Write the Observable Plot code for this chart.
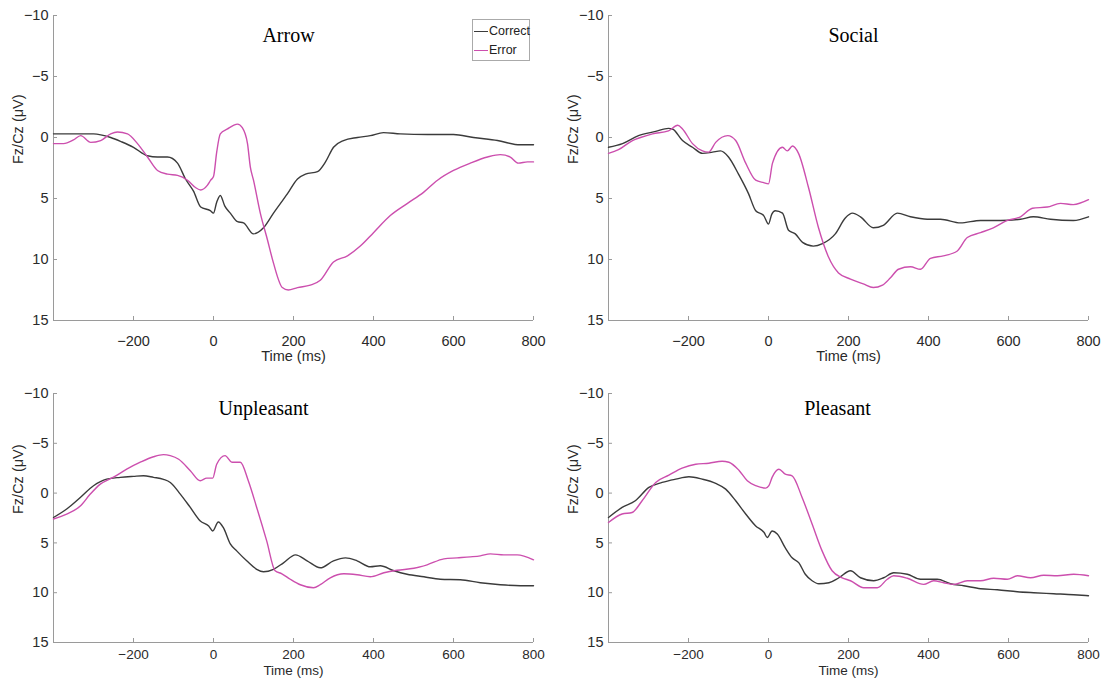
<!DOCTYPE html>
<html>
<head>
<meta charset="utf-8">
<script src="https://cdn.jsdelivr.net/npm/d3@7"></script>
<script src="https://cdn.jsdelivr.net/npm/@observablehq/plot@0.6"></script>
<style>
  body { margin: 0; background: #fff; }
  #wrap { position: relative; width: 1104px; height: 682px; overflow: hidden; }
  .panel { position: absolute; }
  .legend { position: absolute; left: 472px; top: 19px; width: 56px; height: 40px; border: 1px solid #aaa; background: #fff;
            font-family: "Liberation Sans", Arial, sans-serif; font-size: 12.5px; color: #222; }
  .legend .row { position: absolute; left: 1px; height: 16px; line-height: 16px; white-space: nowrap; }
  .legend .sw { display: inline-block; width: 14px; height: 0; border-top: 1.3px solid; vertical-align: middle; margin-right: 1px; }
</style>
</head>
<body>
<div id="wrap"></div>
<script>
// ---- data (time in ms, amplitude in µV) ----
const seriesNames = ["Correct", "Error"];
const seriesColors = ["#3b3b3b", "#cc4fae"];
const panelTitles = ["Arrow", "Social", "Unpleasant", "Pleasant"];
const xTicks = [-200, 0, 200, 400, 600, 800];
const yTicks = [-10, -5, 0, 5, 10, 15];
const xLabel = "Time (ms)";
const yLabel = "Fz/Cz (μV)";

const arrowCorrect = [[-400,-0.3],[-350,-0.3],[-300,-0.3],[-257,0],[-230,0.35],[-200,0.8],[-165,1.5],[-140,1.6],[-115,1.6],[-90,2.1],[-70,3.4],[-50,4.4],[-32,5.7],[-8,6.0],[0,6.2],[8,5.3],[17,4.75],[28,5.6],[42,6.2],[60,6.9],[75,7.0],[100,7.9],[125,7.4],[150,6.2],[185,4.6],[210,3.4],[230,3.0],[260,2.8],[280,2.0],[300,0.8],[325,0.25],[360,0],[392,-0.15],[425,-0.4],[467,-0.3],[535,-0.25],[600,-0.25],[650,0],[710,0.25],[767,0.6],[800,0.6]];
const arrowError = [[-400,0.5],[-375,0.5],[-350,0.2],[-332,-0.15],[-307,0.4],[-282,0.25],[-257,-0.3],[-240,-0.45],[-215,-0.3],[-190,0.5],[-165,1.6],[-140,2.7],[-115,3.0],[-90,3.1],[-65,3.5],[-45,4.1],[-32,4.3],[-15,3.9],[-7,3.5],[0,3.2],[8,1.2],[17,-0.3],[35,-0.7],[50,-1.0],[60,-1.1],[72,-0.8],[85,0.5],[92,2.4],[100,3.5],[117,6.2],[135,8.4],[150,10.3],[172,12.3],[187,12.5],[210,12.3],[242,12.1],[267,11.7],[300,10.2],[335,9.7],[367,8.9],[400,7.8],[442,6.4],[485,5.4],[525,4.5],[560,3.5],[600,2.7],[642,2.1],[685,1.6],[717,1.4],[742,1.6],[762,2.1],[785,2.0],[800,2.0]];

const socialCorrect = [[-400,0.8],[-365,0.5],[-325,-0.15],[-282,-0.5],[-250,-0.75],[-240,-0.7],[-215,0.25],[-190,0.8],[-165,1.3],[-140,1.2],[-120,1.1],[-100,1.6],[-75,3.0],[-50,4.6],[-32,6.0],[-12,6.4],[0,7.1],[8,6.3],[17,6.0],[35,6.2],[50,7.6],[67,7.9],[85,8.6],[112,8.9],[135,8.7],[167,7.9],[192,6.6],[210,6.2],[230,6.5],[262,7.4],[287,7.2],[322,6.2],[355,6.5],[397,6.7],[430,6.7],[480,7.0],[530,6.8],[580,6.8],[630,6.7],[662,6.5],[705,6.7],[762,6.8],[800,6.5]];
const socialError = [[-400,1.3],[-375,1.0],[-340,0.25],[-320,0],[-290,-0.3],[-250,-0.55],[-227,-1.0],[-215,-0.7],[-190,0.5],[-165,1.1],[-150,1.2],[-132,0.4],[-102,-0.15],[-82,0.25],[-57,2.1],[-32,3.5],[-12,3.7],[0,3.8],[10,2.1],[35,0.8],[47,1.1],[60,0.7],[75,1.3],[100,4.1],[125,7.4],[150,9.8],[175,11.1],[205,11.6],[237,12.0],[262,12.3],[285,12.1],[305,11.5],[325,10.8],[355,10.6],[380,10.8],[405,9.9],[437,9.7],[472,9.3],[497,8.2],[530,7.8],[562,7.4],[597,6.8],[630,6.5],[660,5.8],[697,5.7],[730,5.4],[762,5.5],[800,5.1]];

const unpleasantCorrect = [[-400,2.45],[-367,1.6],[-333,0.44],[-300,-0.74],[-267,-1.4],[-233,-1.58],[-200,-1.68],[-175,-1.74],[-150,-1.58],[-125,-1.38],[-108,-1.07],[-83,0.1],[-58,1.44],[-33,2.8],[-12,3.3],[-2,3.8],[12,2.9],[25,3.5],[42,5.1],[58,5.8],[83,6.8],[108,7.65],[125,7.9],[150,7.65],[175,7.0],[205,6.2],[234,6.8],[267,7.5],[300,6.8],[330,6.5],[359,6.8],[392,7.4],[417,7.3],[451,7.8],[484,8.15],[526,8.4],[567,8.65],[617,8.7],[667,9.0],[717,9.2],[767,9.3],[800,9.3]];
const unpleasantError = [[-400,2.6],[-367,2.1],[-333,1.3],[-308,0.1],[-283,-0.9],[-250,-1.6],[-217,-2.4],[-183,-3.1],[-150,-3.65],[-125,-3.86],[-108,-3.76],[-87,-3.4],[-58,-2.25],[-33,-1.24],[-17,-1.5],[-2,-1.5],[8,-2.9],[29,-3.76],[46,-3.1],[67,-3.1],[87,-1.24],[108,1.44],[133,4.8],[154,7.8],[171,8.1],[192,8.65],[217,9.2],[250,9.5],[267,9.2],[292,8.5],[326,8.1],[359,8.2],[392,8.4],[426,8.0],[459,7.75],[501,7.55],[534,7.2],[576,6.6],[609,6.5],[642,6.4],[667,6.3],[692,6.1],[726,6.2],[759,6.2],[800,6.7]];

const pleasantCorrect = [[-400,2.45],[-366,1.44],[-333,0.77],[-299,-0.57],[-266,-1.07],[-232,-1.4],[-199,-1.64],[-166,-1.4],[-132,-0.97],[-107,-0.4],[-82,0.77],[-57,2.1],[-32,3.3],[-11,3.96],[-3,4.46],[9,3.8],[22,4.1],[42,5.5],[59,6.5],[76,7.0],[92,8.15],[109,8.8],[126,9.1],[151,9.0],[176,8.5],[205,7.8],[230,8.5],[263,8.8],[288,8.5],[313,8.0],[347,8.15],[380,8.65],[422,8.65],[455,9.1],[488,9.3],[530,9.6],[572,9.7],[622,9.9],[663,10.0],[713,10.1],[763,10.2],[800,10.3]];
const pleasantError = [[-400,2.95],[-366,2.1],[-341,1.95],[-316,0.77],[-282,-1.07],[-249,-1.8],[-216,-2.5],[-182,-2.9],[-149,-3.0],[-116,-3.2],[-99,-3.1],[-74,-2.3],[-53,-1.24],[-32,-0.74],[-7,-0.5],[1,-0.74],[9,-1.58],[26,-2.4],[42,-1.9],[59,-1.74],[84,0.44],[109,3.1],[134,5.8],[159,7.8],[184,8.5],[205,8.8],[238,9.5],[272,9.5],[297,8.65],[313,8.3],[347,8.55],[388,9.16],[413,8.8],[438,9.0],[463,9.16],[497,8.8],[530,8.8],[563,8.55],[597,8.65],[622,8.3],[655,8.5],[688,8.25],[722,8.3],[763,8.15],[800,8.3]];

// ---- layout ----
const panels = [
  {title: panelTitles[0], correct: arrowCorrect, error: arrowError, left: 0, top: 0, width: 552, height: 370, mt: 15, mb: 50, ml: 53, mr: 19, tdx: -5, tdy: 26, xlDy: 40, tp: 15, xfs: 14.5},
  {title: panelTitles[1], correct: socialCorrect, error: socialError, left: 555, top: 0, width: 549, height: 370, mt: 15, mb: 50, ml: 53, mr: 16, tdx: 5, tdy: 26, xlDy: 40, tp: 15, xfs: 14.5},
  {title: panelTitles[2], correct: unpleasantCorrect, error: unpleasantError, left: 0, top: 378, width: 552, height: 304, mt: 15, mb: 40, ml: 53, mr: 19, tdx: -30, tdy: 21, xlDy: 32, tp: 7, xfs: 13.5},
  {title: panelTitles[3], correct: pleasantCorrect, error: pleasantError, left: 555, top: 378, width: 549, height: 304, mt: 15, mb: 40, ml: 53, mr: 16, tdx: -11, tdy: 21, xlDy: 32, tp: 7, xfs: 13.5}
];

const wrap = document.getElementById("wrap");
const axisGrey = "#9a9a9a";
const textCol = "#2a2a2a";
const sans = "'Liberation Sans', Arial, sans-serif";
const fs = 14.5;

for (const p of panels) {
  const chart = Plot.plot({
    width: p.width, height: p.height,
    marginTop: p.mt, marginBottom: p.mb, marginLeft: p.ml, marginRight: p.mr,
    style: {fontFamily: sans, fontSize: fs + "px", background: "#fff", color: textCol},
    x: {domain: [-400, 800]},
    y: {domain: [-10, 15], reverse: true},
    marks: [
      Plot.ruleX([-400], {stroke: axisGrey}),
      Plot.ruleY([15], {stroke: axisGrey}),
      Plot.axisX({ticks: xTicks, tickSize: -4, tickPadding: p.tp + 4, stroke: axisGrey, fill: textCol, fontSize: p.xfs, label: null, tickFormat: d3.format("")}),
      Plot.axisY({ticks: yTicks, tickSize: -4, tickPadding: 9, stroke: axisGrey, fill: textCol, fontSize: fs, label: null}),
      Plot.line(p.correct, {x: d => d[0], y: d => d[1], stroke: seriesColors[0], strokeWidth: 1.4, curve: "monotone-x"}),
      Plot.line(p.error, {x: d => d[0], y: d => d[1], stroke: seriesColors[1], strokeWidth: 1.4, curve: "monotone-x"}),
      Plot.text([p.title], {frameAnchor: "top", dx: p.tdx, dy: p.tdy, lineAnchor: "bottom", fontFamily: "'Liberation Serif', 'Times New Roman', serif", fontSize: 20, fill: "#000"}),
      Plot.text([yLabel], {frameAnchor: "left", rotate: -90, dx: -35, dy: -4, fill: textCol, fontSize: fs}),
      Plot.text([xLabel], {frameAnchor: "bottom", dy: p.xlDy, fill: textCol, fontSize: p.xfs})
    ]
  });
  const div = document.createElement("div");
  div.className = "panel";
  div.style.left = p.left + "px";
  div.style.top = p.top + "px";
  div.appendChild(chart);
  wrap.appendChild(div);
}

// legend (top-left panel)
const lg = document.createElement("div");
lg.className = "legend";
seriesNames.forEach((name, i) => {
  const row = document.createElement("div");
  row.className = "row";
  row.style.top = (3 + i * 19) + "px";
  const sw = document.createElement("span");
  sw.className = "sw";
  sw.style.borderColor = seriesColors[i];
  row.appendChild(sw);
  row.appendChild(document.createTextNode(name));
  lg.appendChild(row);
});
wrap.appendChild(lg);
</script>
</body>
</html>
